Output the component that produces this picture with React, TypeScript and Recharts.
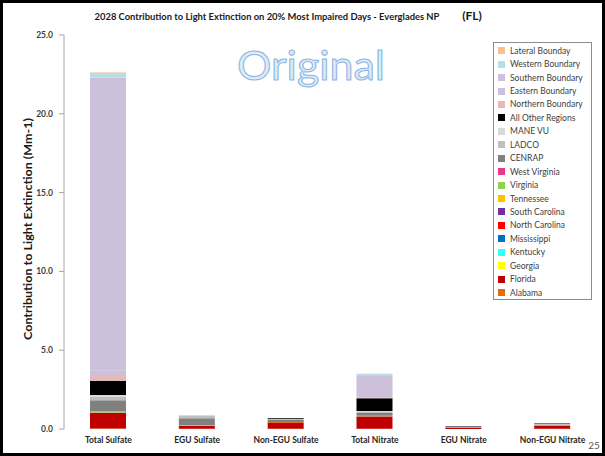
import { BarChart, Bar, XAxis, YAxis, Legend } from "recharts";

const categories = ["Total Sulfate", "EGU Sulfate", "Non-EGU Sulfate", "Total Nitrate", "EGU Nitrate", "Non-EGU Nitrate"];
const yTicks = [0, 5, 10, 15, 20, 25];

// contributions (Mm-1), one value per category
const alabama = [0.03, 0.01, 0.01, 0.02, 0.0, 0.01];
const florida = [1.0, 0.2, 0.42, 0.76, 0.08, 0.2];
const georgia = [0.03, 0.02, 0.01, 0.02, 0.01, 0.01];
const kentucky = [0.01, 0.0, 0.0, 0.0, 0.0, 0.0];
const mississippi = [0.01, 0.0, 0.0, 0.01, 0.0, 0.0];
const northCarolina = [0.02, 0.01, 0.01, 0.01, 0.0, 0.0];
const southCarolina = [0.01, 0.0, 0.0, 0.0, 0.0, 0.0];
const tennessee = [0.02, 0.02, 0.0, 0.02, 0.01, 0.01];
const virginia = [0.01, 0.0, 0.0, 0.0, 0.0, 0.0];
const westVirginia = [0.01, 0.0, 0.0, 0.0, 0.0, 0.0];
const cenrap = [0.68, 0.42, 0.15, 0.17, 0.03, 0.05];
const ladco = [0.23, 0.18, 0.04, 0.1, 0.01, 0.02];
const maneVu = [0.1, 0.03, 0.01, 0.04, 0.0, 0.01];
const allOther = [0.9, 0.0, 0.05, 0.8, 0.03, 0.04];
const northern = [0.36, 0, 0, 0.04, 0, 0];
const eastern = [0.3, 0, 0, 0.1, 0, 0];
const southern = [18.56, 0, 0, 1.28, 0, 0];
const western = [0.33, 0, 0, 0.12, 0, 0];
const lateral = [0.02, 0, 0, 0.01, 0, 0];

// stacking order, bottom first
const series = [
  { key: "Alabama", color: "#E46C0A", values: alabama },
  { key: "Florida", color: "#C00000", values: florida },
  { key: "Georgia", color: "#FFFF00", values: georgia },
  { key: "Kentucky", color: "#33FFFF", values: kentucky },
  { key: "Mississippi", color: "#0070C0", values: mississippi },
  { key: "North Carolina", color: "#FF0000", values: northCarolina },
  { key: "South Carolina", color: "#7030A0", values: southCarolina },
  { key: "Tennessee", color: "#FFC000", values: tennessee },
  { key: "Virginia", color: "#92D050", values: virginia },
  { key: "West Virginia", color: "#E8388C", values: westVirginia },
  { key: "CENRAP", color: "#808080", values: cenrap },
  { key: "LADCO", color: "#BFBFBF", values: ladco },
  { key: "MANE VU", color: "#D9D9D9", values: maneVu },
  { key: "All Other Regions", color: "#000000", values: allOther },
  { key: "Northern Boundary", color: "#E6B9B8", values: northern },
  { key: "Eastern Boundary", color: "#CBC1DB", values: eastern },
  { key: "Southern Boundary", color: "#CCC0DA", values: southern },
  { key: "Western Boundary", color: "#B7DEE8", values: western },
  { key: "Lateral Bounday", color: "#FAC090", values: lateral },
];

const data = categories.map((name, i) => {
  const row: Record<string, string | number> = { name };
  series.forEach((s) => (row[s.key] = s.values[i]));
  return row;
});

const font = "Lato, 'Open Sans', sans-serif";

function LegendBox() {
  return (
    <div
      style={{
        width: 99,
        height: 258,
        boxSizing: "border-box",
        border: "1px solid #8C8C8C",
        background: "#fff",
        paddingTop: 1,
        paddingLeft: 4,
        fontFamily: font,
      }}
    >
      {[...series].reverse().map((s) => (
        <div key={s.key} style={{ display: "flex", alignItems: "center", height: 13.45, fontSize: 8.5, color: "#404040", whiteSpace: "nowrap" }}>
          <span style={{ width: 7, height: 7, background: s.color, marginRight: 5, flex: "none" }} />
          {s.key}
        </div>
      ))}
    </div>
  );
}

export default function App() {
  return (
    <div style={{ position: "absolute", left: 0, top: 0, width: 605, height: 456, background: "#fff", fontFamily: font }}>
      <BarChart width={605} height={456} data={data} margin={{ top: 35, right: 8, left: 0, bottom: 0 }}>
        <XAxis
          xAxisId="bounds"
          type="number"
          domain={[0, 6]}
          ticks={[1, 2, 3, 4, 5]}
          height={0}
          axisLine={false}
          tickSize={4}
          tickLine={{ stroke: "#BFBFBF" }}
          tickFormatter={() => ""}
        />
        <XAxis
          dataKey="name"
          height={27}
          axisLine={false}
          tickLine={false}
          interval={0}
          tick={{ fontSize: 8.5, fontWeight: 700, fill: "#262626", fontFamily: font }}
        />
        <YAxis
          width={64}
          domain={[0, 25]}
          ticks={yTicks}
          interval={0}
          tickFormatter={(v: number) => v.toFixed(1)}
          axisLine={{ stroke: "#A6A6A6" }}
          tickLine={{ stroke: "#A6A6A6" }}
          tickSize={5}
          tickMargin={6}
          tick={{ fontSize: 8.5, fontWeight: 700, fill: "#404040", fontFamily: font }}
        />
        <Legend
          layout="vertical"
          align="center"
          verticalAlign="middle"
          wrapperStyle={{ top: 42, left: 493, width: 99, height: 258 }}
          content={() => <LegendBox />}
        />
        {series.map((s) => (
          <Bar key={s.key} dataKey={s.key} stackId="a" fill={s.color} barSize={36} isAnimationActive={false} />
        ))}
      </BarChart>
      <svg width={605} height={456} style={{ position: "absolute", left: 0, top: 0, pointerEvents: "none" }}>
        <rect x={1.5} y={1.5} width={602} height={453} fill="none" stroke="#000" strokeWidth={3} />
        <text x={267} y={20} textAnchor="middle" fontSize={9.4} fontWeight={700} fill="#1a1a1a">
          2028 Contribution to Light Extinction on 20% Most Impaired Days - Everglades NP
        </text>
        <text x={472} y={20} textAnchor="middle" fontSize={12} fontWeight={700} fill="#1a1a1a">
          (FL)
        </text>
        <text
          x={0}
          y={0}
          transform="translate(32 229) rotate(-90)"
          textAnchor="middle"
          fontSize={10.5}
          fontWeight={700}
          fill="#1a1a1a"
          textLength={222}
          lengthAdjust="spacingAndGlyphs"
        >
          Contribution to Light Extinction (Mm-1)
        </text>
        <text x={311} y={80} textAnchor="middle" fontSize={40} fill="#DDEBF7" stroke="#8DB4E2" strokeWidth={1} textLength={148} lengthAdjust="spacingAndGlyphs">
          Original
        </text>
        <text x={594} y={449} textAnchor="middle" fontSize={10} fill="#595959">
          25
        </text>
      </svg>
    </div>
  );
}
